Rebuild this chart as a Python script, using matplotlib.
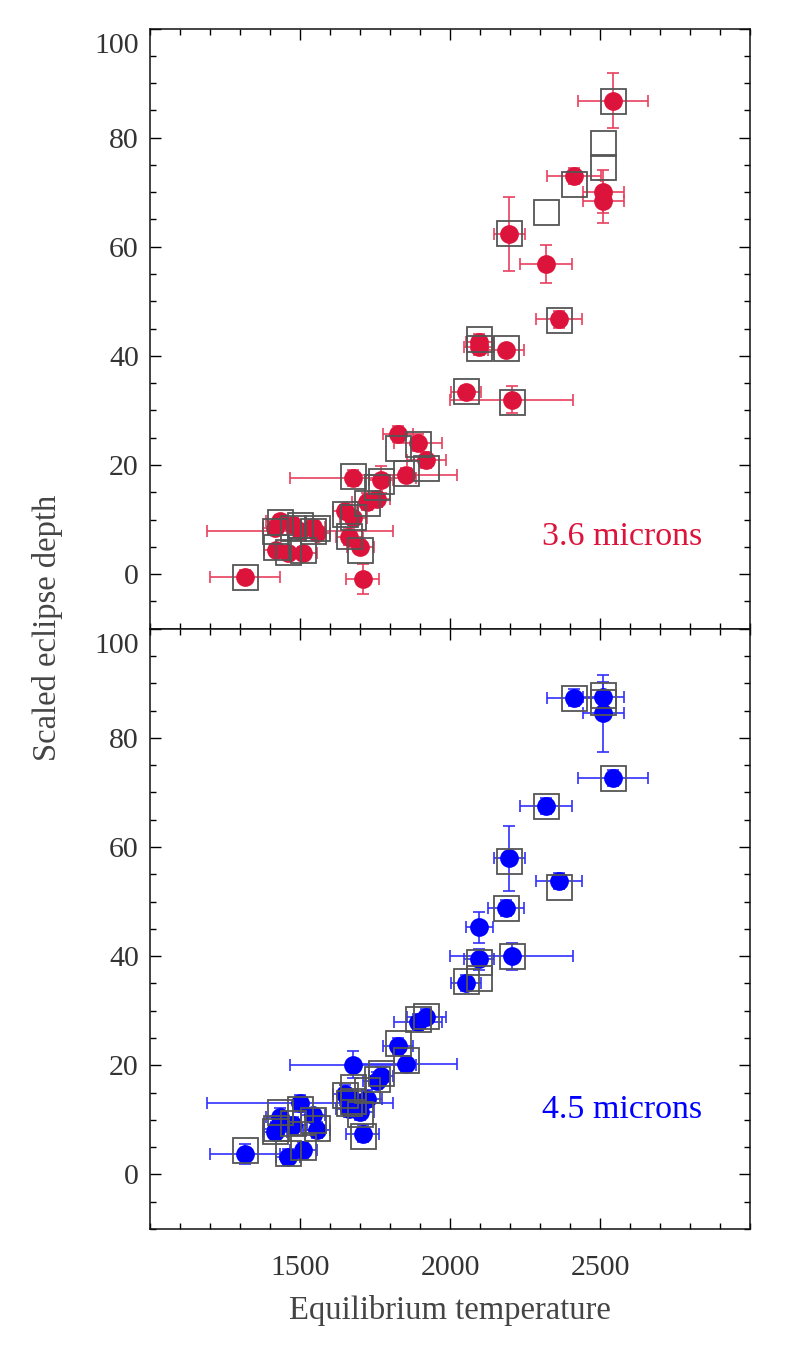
import numpy as np
import matplotlib
matplotlib.use("Agg")
from matplotlib import pyplot as plt
from matplotlib.ticker import MultipleLocator, FixedLocator

plt.rcParams["font.family"] = ["Liberation Serif", "DejaVu Serif"]

# planets (shared temperatures for both channels)
temp = [1317, 1420, 1433, 1417, 1461, 1478, 1500, 1511, 1544, 1556,
        1650, 1664, 1676, 1678, 1700, 1709, 1722, 1756, 1769, 1828,
        1853, 1892, 1920, 2053, 2098, 2098, 2187, 2198, 2206, 2319,
        2364, 2413, 2511, 2511, 2544]
temp_err = [116, 40, 45, 40, 40, 45, 310, 45, 40, 45,
            40, 45, 210, 45, 45, 55, 50, 45, 40, 50,
            170, 80, 65, 50, 45, 50, 60, 53, 205, 87,
            76, 89, 68, 68, 116]

# 3.6 micron: measured depth, error, model (squares)
d36 = [-0.5, 4.5, 9.7, 8.5, 3.9, 9.1, 8.0, 3.9, 8.6, 7.5,
       11.5, 6.9, 17.6, 10.3, 5.0, -0.9, 13.3, 13.8, 17.3, 25.7,
       18.2, 24.1, 20.9, 33.3, 42.5, 41.6, 41.0, 62.4, 32.0, 56.9,
       46.7, 73.0, 70.1, 68.3, 86.8]
e36 = [1.2, 1.0, 1.2, 1.0, 1.0, 1.2, 1.2, 1.0, 1.0, 1.0,
       1.2, 1.5, 1.5, 1.2, 1.2, 2.7, 1.5, 1.5, 2.5, 1.5,
       1.2, 1.5, 1.5, 1.2, 1.5, 1.5, 1.0, 6.8, 2.4, 3.5,
       1.5, 1.5, 4.0, 4.0, 5.0]
m36 = [-0.5, 5.0, 9.5, 8.0, 4.0, 8.5, 9.0, 4.5, 8.0, 8.5,
       11.0, 7.0, 18.0, 10.5, 4.5, np.nan, 13.0, 16.0, 17.0, 23.2,
       18.5, 23.9, 19.5, 33.5, 43.1, 41.5, 41.5, 62.5, 31.5, 66.4,
       46.5, 71.5, 79.0, 74.7, 86.8]

# 4.5 micron
d45 = [3.7, 8.4, 10.6, 7.8, 3.2, 9.0, 13.0, 4.4, 10.8, 8.1,
       14.8, 12.0, 20.1, 13.6, 11.4, 7.5, 13.9, 17.2, 18.1, 23.5,
       20.2, 27.9, 28.8, 35.1, 45.3, 39.4, 48.8, 57.9, 40.0, 67.5,
       53.8, 87.4, 87.5, 84.5, 72.7]
e45 = [1.8, 1.2, 1.5, 1.2, 1.5, 1.5, 1.5, 1.5, 1.2, 1.5,
       1.5, 1.5, 2.5, 1.5, 1.5, 1.5, 1.5, 1.5, 1.5, 1.5,
       1.5, 1.5, 1.5, 1.5, 2.8, 2.0, 1.5, 6.0, 2.5, 1.5,
       1.5, 1.5, 2.7, 7.0, 1.5]
m45 = [4.5, 8.5, 11.5, 8.0, 4.0, 9.5, 12.0, 5.0, 10.0, 8.5,
       14.5, 13.0, 16.0, 13.5, 11.0, 7.0, 15.5, 17.5, 18.5, 24.0,
       21.0, 28.5, 29.0, 35.5, 36.0, 38.9, 48.8, 57.5, 40.0, 67.5,
       52.7, 87.4, 87.8, 86.5, 72.7]

panels = [
    (d36, e36, m36, "#DC143C", "#E8405F", "3.6 microns", 0.153),
    (d45, e45, m45, "#0000FF", "#3030FF", "4.5 microns", 0.198),
]

W, H = 789, 1349
fig = plt.figure(figsize=(W / 100, H / 100), dpi=100, facecolor="white")
fig.subplots_adjust(left=150 / W, right=750 / W, top=1 - 28.5 / H,
                    bottom=1 - 1229 / H, hspace=0)
axes = fig.subplots(2, 1, sharex=True)

txt = "#333333"
for ax, (d, e, m, c, ce, lab, ly) in zip(axes, panels):
    ax.errorbar(temp, d, xerr=temp_err, yerr=e, fmt="none", ecolor=ce,
                elinewidth=1.2, capsize=4.5, capthick=1.2, zorder=2)
    ax.plot(temp, d, "o", ms=13.5, color=c, mec="none", zorder=3)
    ax.plot(temp, m, "s", ms=18, mfc="none", mec="#555555", mew=1.3,
            zorder=4)

    ax.set_xlim(1000, 3000)
    ax.set_ylim(-10, 100)
    ax.xaxis.set_major_locator(FixedLocator([1500, 2000, 2500]))
    ax.xaxis.set_minor_locator(MultipleLocator(100))
    ax.yaxis.set_major_locator(FixedLocator([0, 20, 40, 60, 80, 100]))
    ax.yaxis.set_minor_locator(MultipleLocator(5))
    ax.set_yticklabels(["0", "20", "40", "60", "80", ""])
    ax.tick_params(which="both", direction="in", top=True, right=True,
                   labelsize=21.5, labelcolor=txt, width=1.0)
    ax.tick_params(which="major", length=8)
    ax.tick_params(which="minor", length=4.3)
    ax.tick_params(axis="y", pad=8)
    ax.tick_params(axis="x", pad=19)
    for s in ax.spines.values():
        s.set_linewidth(1.1)
        s.set_color("#111111")

    # top label sits just inside the frame
    ax.annotate("100", xy=(0, 100), xycoords=("axes fraction", "data"),
                xytext=(-8, -10.5), textcoords="offset points",
                ha="right", va="center_baseline", fontsize=21.5, color=txt)

    ax.text(0.92, ly, lab, transform=ax.transAxes, ha="right",
            va="center", fontsize=24.5, color=c)

axes[0].tick_params(labelbottom=False)
axes[1].set_xlabel("Equilibrium temperature", fontsize=23.5, color="#444444",
                   labelpad=10)
fig.text(48 / W, 1 - 628 / H, "Scaled eclipse depth", rotation=90,
         ha="center", va="center", fontsize=23.5, color="#444444")

fig.savefig("out.png", dpi=100, facecolor="white")
